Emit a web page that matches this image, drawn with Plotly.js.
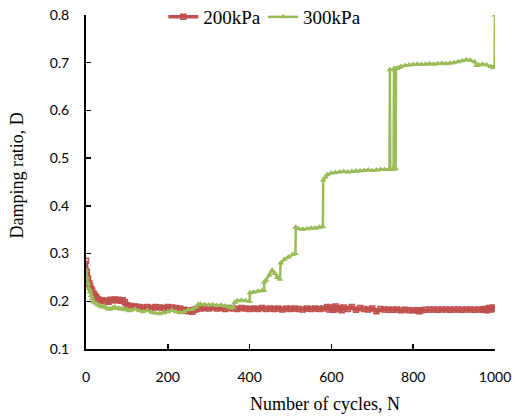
<!DOCTYPE html>
<html><head><meta charset="utf-8">
<script src="https://cdn.plot.ly/plotly-3.0.1.min.js"></script>
<style>html,body{margin:0;padding:0;background:#fff;}#chart{width:521px;height:418px;}</style>
</head><body><div id="chart"></div>
<script>
const seriesNames = ["200kPa", "300kPa"];
const xTicks = [0, 200, 400, 600, 800, 1000];
const yTicks = [0.1, 0.2, 0.3, 0.4, 0.5, 0.6, 0.7, 0.8];

const cyc200 = [0,2,5,8,10,13,15,18,20,23,25,28,30,35,40,45,50,55,60,65,70,75,80,85,90,95,100,105,110,115,120,130,140,150,160,170,180,190,200,210,220,230,240,245,250,255,260,265,270,280,290,300,310,320,330,340,350,360,370,380,390,400,410,420,430,440,450,460,470,480,490,500,510,520,530,540,550,560,570,580,590,595,600,605,610,615,620,625,630,640,650,660,670,680,690,700,710,720,730,740,750,760,770,780,790,800,810,815,820,830,840,850,860,870,880,890,900,910,920,930,940,950,960,970,975,980,985,990,995,1000];
const d200 = [0.285,0.262,0.248,0.238,0.232,0.226,0.222,0.216,0.214,0.21,0.208,0.205,0.204,0.201,0.202,0.2,0.201,0.199,0.203,0.202,0.204,0.202,0.203,0.201,0.202,0.198,0.192,0.19,0.19,0.188,0.189,0.188,0.187,0.188,0.186,0.188,0.187,0.186,0.188,0.187,0.186,0.185,0.182,0.18,0.179,0.181,0.178,0.182,0.184,0.185,0.186,0.185,0.187,0.185,0.186,0.184,0.186,0.185,0.184,0.186,0.185,0.184,0.185,0.184,0.186,0.184,0.185,0.184,0.185,0.183,0.185,0.184,0.185,0.184,0.183,0.185,0.184,0.185,0.184,0.185,0.188,0.183,0.187,0.182,0.189,0.184,0.186,0.181,0.187,0.184,0.188,0.182,0.186,0.184,0.183,0.185,0.179,0.184,0.183,0.182,0.182,0.183,0.181,0.182,0.181,0.181,0.181,0.179,0.181,0.182,0.183,0.183,0.182,0.183,0.183,0.182,0.183,0.183,0.182,0.183,0.183,0.182,0.183,0.182,0.184,0.181,0.186,0.183,0.187,0.185];

const cyc300 = [0,2,5,8,10,13,15,18,20,25,30,35,40,45,50,55,60,65,70,75,80,85,90,95,100,105,110,120,130,140,150,160,170,180,190,200,210,220,230,240,250,260,270,275,280,290,300,310,320,330,340,350,355,360,364,370,380,390,400,401,410,420,430,435,436,440,448,455,462,468,474,476,485,495,505,512,513,520,530,540,550,560,570,579,580,585,590,600,610,620,630,640,650,660,670,680,690,700,710,720,730,740,742,743,744,750,752,753,757,758,760,765,770,780,790,800,810,820,830,840,850,860,870,880,890,900,910,920,930,940,950,955,960,970,980,990,996,999,1000];
const d300 = [0.265,0.25,0.238,0.226,0.22,0.212,0.206,0.2,0.198,0.195,0.192,0.19,0.188,0.19,0.186,0.184,0.184,0.186,0.188,0.185,0.186,0.184,0.184,0.182,0.183,0.18,0.181,0.184,0.18,0.178,0.181,0.177,0.175,0.174,0.176,0.178,0.181,0.178,0.176,0.178,0.182,0.183,0.188,0.194,0.194,0.193,0.192,0.193,0.191,0.192,0.19,0.188,0.186,0.187,0.198,0.201,0.202,0.201,0.2,0.218,0.219,0.221,0.222,0.223,0.24,0.244,0.255,0.265,0.258,0.25,0.246,0.28,0.288,0.293,0.298,0.3,0.355,0.352,0.351,0.352,0.353,0.353,0.355,0.356,0.454,0.46,0.465,0.469,0.47,0.471,0.472,0.471,0.472,0.473,0.473,0.474,0.475,0.474,0.475,0.476,0.476,0.476,0.476,0.685,0.476,0.477,0.477,0.688,0.478,0.688,0.688,0.69,0.692,0.694,0.695,0.696,0.697,0.696,0.697,0.698,0.697,0.698,0.699,0.698,0.699,0.7,0.702,0.704,0.706,0.705,0.702,0.694,0.695,0.697,0.695,0.692,0.69,0.69,0.8];

const traces = [
  {x: cyc200, y: d200, name: seriesNames[0], type: 'scatter', mode: 'lines+markers', legend: 'legend',
   line: {color: '#C0504D', width: 3.5},
   marker: {symbol: 'square-open', size: 5, color: '#C0504D', line: {width: 1.5}}},
  {x: cyc300, y: d300, name: seriesNames[1], type: 'scatter', mode: 'lines+markers', legend: 'legend2',
   line: {color: '#9BBB59', width: 2.5},
   marker: {symbol: 'triangle-up', size: 6, color: '#9BBB59'}}
];

const legFont = {family: 'Liberation Serif', size: 19, color: '#000'};
const layout = {
  width: 521, height: 418,
  margin: {l: 86, r: 26, t: 15, b: 69, autoexpand: false},
  paper_bgcolor: '#fff', plot_bgcolor: '#fff',
  showlegend: true,
  legend: {orientation: 'h', x: 0.189, y: 0.994, xanchor: 'left', yanchor: 'middle',
    font: legFont, itemwidth: 30, bgcolor: 'rgba(255,255,255,0)'},
  legend2: {orientation: 'h', x: 0.433, y: 0.994, xanchor: 'left', yanchor: 'middle',
    font: legFont, itemwidth: 30, bgcolor: 'rgba(255,255,255,0)'},
  xaxis: {range: [0, 1000], tickvals: xTicks, ticks: 'inside', ticklen: 5, tickwidth: 1.5, tickcolor: '#000',
    showline: true, linecolor: '#000', linewidth: 2, showgrid: false, zeroline: false,
    tickfont: {family: 'Lato', size: 14, color: '#000'}, ticklabelstandoff: 14},
  yaxis: {range: [0.1, 0.8], tickvals: yTicks, tickformat: '.1f', ticks: 'inside', ticklen: 5, tickwidth: 1.5, tickcolor: '#000',
    showline: true, linecolor: '#000', linewidth: 2, showgrid: false, zeroline: false,
    tickfont: {family: 'Lato', size: 14, color: '#000'}, ticklabelstandoff: 12},
  annotations: [
    {text: 'Number of cycles, N', xref: 'paper', yref: 'paper', x: 0.585, y: -0.165, xanchor: 'center', yanchor: 'middle',
     showarrow: false, font: {family: 'Liberation Serif', size: 18, color: '#000'}},
    {text: 'Damping ratio, D', xref: 'paper', yref: 'paper', x: -0.168, y: 0.52, xanchor: 'center', yanchor: 'middle',
     textangle: -90, showarrow: false, font: {family: 'Liberation Serif', size: 18, color: '#000'}}
  ]
};
Plotly.newPlot('chart', traces, layout, {displayModeBar: false, staticPlot: true});
</script></body></html>
